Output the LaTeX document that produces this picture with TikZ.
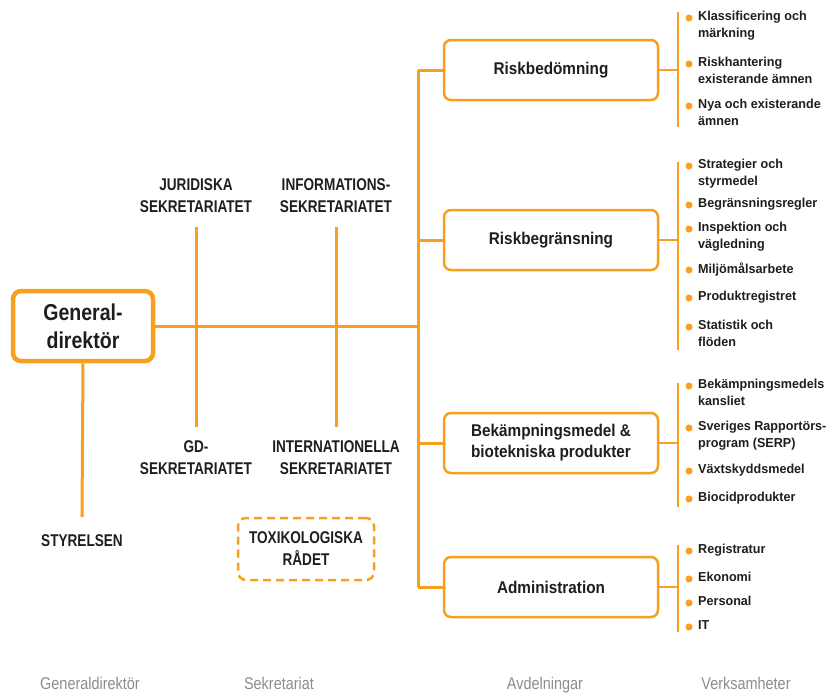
\documentclass[tikz,border=0pt]{standalone}
\usepackage{fontspec}
\setmainfont{Liberation Sans}
\newfontfamily\condfont[FakeStretch=0.8]{Liberation Sans}
\newfontfamily\gdfont[FakeStretch=0.85]{Liberation Sans}
\newfontfamily\deptfont[FakeStretch=0.9]{Liberation Sans}
\newfontfamily\itemfont[FakeStretch=0.97]{Liberation Sans}
\newfontfamily\labfont[FakeStretch=0.85]{Liberation Sans}
\definecolor{org}{RGB}{247,160,30}
\definecolor{ink}{RGB}{30,30,30}
\definecolor{lab}{RGB}{140,140,140}
\begin{document}
\begin{tikzpicture}[x=1pt,y=-1pt,
  line/.style={draw=org,line width=3pt},
  thin/.style={draw=org,line width=2pt},
  gdbox/.style={draw=org,line width=4.5pt,rounded corners=8pt,minimum width=140pt,minimum height=70pt,align=center,text=ink,font=\gdfont\bfseries\fontsize{23}{28}\selectfont},
  dept/.style={draw=org,line width=2.5pt,rounded corners=7pt,minimum width=214pt,minimum height=60pt,align=center,text=ink,font=\deptfont\bfseries\fontsize{17}{21}\selectfont},
  sek/.style={align=center,text=ink,inner sep=0pt,font=\condfont\bfseries\fontsize{17}{22}\selectfont},
  tox/.style={draw=org,line width=2.5pt,dash pattern=on 8pt off 5pt,rounded corners=8pt,minimum width=136pt,minimum height=62pt,align=center,text=ink,font=\condfont\bfseries\fontsize{17}{22}\selectfont},
  item/.style={anchor=north west,inner sep=0pt,align=left,text=ink,font=\itemfont\bfseries\fontsize{13}{17}\selectfont},
  dot/.style={circle,fill=org,inner sep=0pt,minimum size=7pt},
  bottom/.style={anchor=base,inner sep=0pt,text=lab,font=\labfont\fontsize{17}{20}\selectfont}]
\useasboundingbox (0,0) rectangle (832,694);

% Generaldirektor
\node[gdbox] (gd) at (83,326) {General-\\direktör};
\node[sek] (sty) at (82,541) {STYRELSEN};
\draw[line] (gd.south) -- ([yshift=18pt]sty.north);

% secretariats
\node[sek] (jur) at (196,196) {JURIDISKA\\SEKRETARIATET};
\node[sek] (gds) at (196,458) {GD-\\SEKRETARIATET};
\node[sek] (inf) at (336,196) {INFORMATIONS-\\SEKRETARIATET};
\node[sek] (int) at (336,458) {INTERNATIONELLA\\SEKRETARIATET};
\draw[line] ([yshift=-14pt]jur.south) -- ([yshift=14pt]gds.north);
\draw[line] ([yshift=-14pt]inf.south) -- ([yshift=14pt]int.north);
\node[tox] (tox) at (306,549) {TOXIKOLOGISKA\\RÅDET};

% departments
\node[dept] (rb) at (551,70) {Riskbedömning};
\node[dept] (rg) at (551,240) {Riskbegränsning};
\node[dept] (bk) at (551,443) {Bekämpningsmedel \&\\biotekniska produkter};
\node[dept] (ad) at (551,587) {Administration};

\coordinate (vt) at (418,70);
\coordinate (vm) at (418,326);
\coordinate (vb) at (418,587);
\draw[line] (gd.east) -- (vm);
\draw[line] (vt) -- (vb);
\draw[line] (vt) -- (rb.west);
\draw[line] (418,240) coordinate (v2) -- (rg.west);
\draw[line] (418,443) coordinate (v3) -- (bk.west);
\draw[line] (vb) -- (ad.west);

% brackets
\coordinate (b1t) at (678,12);  \coordinate (b1b) at (678,127);
\coordinate (b2t) at (678,162); \coordinate (b2b) at (678,350);
\coordinate (b3t) at (678,383); \coordinate (b3b) at (678,507);
\coordinate (b4t) at (678,545); \coordinate (b4b) at (678,632);
\draw[thin] (rb.east) -- (678,70);
\draw[thin] (rg.east) -- (678,240);
\draw[thin] (bk.east) -- (678,443);
\draw[thin] (ad.east) -- (678,587);
\draw[thin] (b1t) -- (b1b);
\draw[thin] (b2t) -- (b2b);
\draw[thin] (b3t) -- (b3b);
\draw[thin] (b4t) -- (b4b);

% items
\foreach \y/\t [count=\i] in {
  18/{Klassificering och\\märkning},
  64/{Riskhantering\\existerande ämnen},
  106/{Nya och existerande\\ämnen},
  166/{Strategier och\\styrmedel},
  205/{Begränsningsregler},
  229/{Inspektion och\\vägledning},
  270/{Miljömålsarbete},
  298/{Produktregistret},
  327/{Statistik och\\flöden},
  386/{Bekämpningsmedels\\kansliet},
  428/{Sveriges Rapportörs-\\program (SERP)},
  471/{Växtskyddsmedel},
  499/{Biocidprodukter},
  551/{Registratur},
  579/{Ekonomi},
  603/{Personal},
  627/{IT}}
{
  \node[dot] (d\i) at (689,\y) {};
  \node[item] (it\i) at (698,\y-7) {\t};
}

% bottom labels
\node[bottom] (l1) at (90,689) {Generaldirektör};
\node[bottom] (l2) at (279,689) {Sekretariat};
\node[bottom] (l3) at (545,689) {Avdelningar};
\node[bottom] (l4) at (746,689) {Verksamheter};
\end{tikzpicture}
\end{document}
